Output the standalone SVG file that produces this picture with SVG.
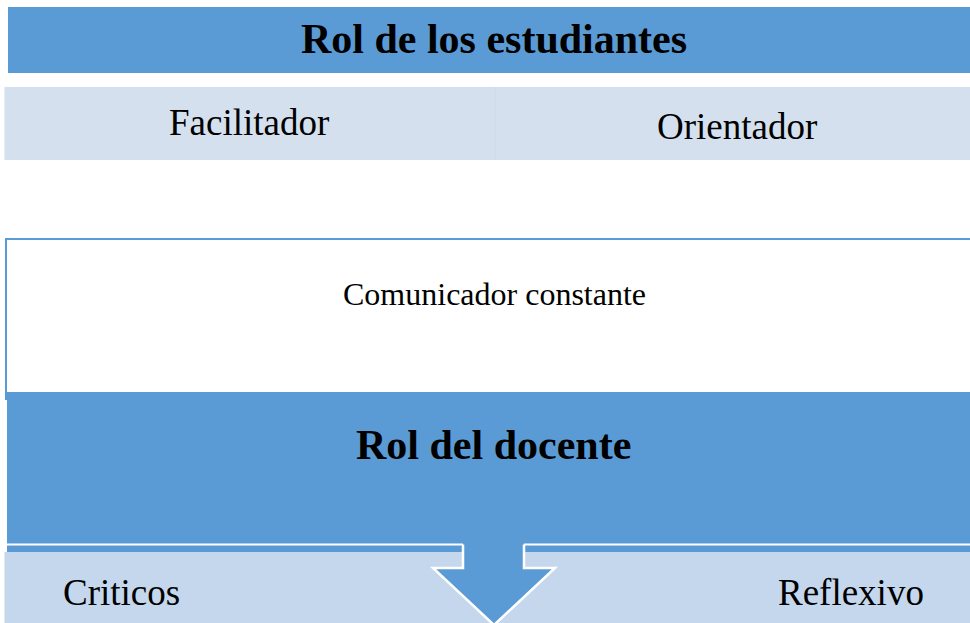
<svg xmlns="http://www.w3.org/2000/svg" width="970" height="623" viewBox="0 0 970 623">
  <style>
    .t { font-family: 'Liberation Serif', 'Times New Roman', serif; fill: #000000; }
    .title { font-size: 42px; font-weight: bold; }
    .item { font-size: 37px; }
    .mid { font-size: 32px; }
    .dark { fill: #5B9BD5; }
    .light1 { fill: #D5E0EF; }
    .light2 { fill: #C4D7EC; }
  </style>
  <rect width="970" height="623" fill="#FFFFFF"/>

  <g id="rol-estudiantes">
    <rect class="dark" x="8" y="7" width="962" height="66"/>
    <text class="t title" x="494" y="53" text-anchor="middle">Rol de los estudiantes</text>
  </g>

  <g id="estudiantes-items">
    <rect class="light1" x="4" y="87" width="966" height="73"/>
    <line x1="4.5" y1="87" x2="4.5" y2="160" stroke="#E6EDF6" stroke-width="1"/>
    <line x1="495" y1="87" x2="495" y2="160" stroke="#CFDAE9" stroke-width="1"/>
    <text class="t item" x="169" y="135">Facilitador</text>
    <text class="t item" x="657" y="139">Orientador</text>
  </g>

  <g id="comunicador">
    <rect x="6" y="239" width="970" height="160" fill="#FFFFFF" stroke="#5B9BD5" stroke-width="2"/>
    <text class="t mid" x="343" y="305">Comunicador constante</text>
  </g>

  <g id="rol-docente">
    <rect class="dark" x="7" y="392" width="963" height="160"/>
    <text class="t title" x="356" y="459">Rol del docente</text>
  </g>

  <g id="docente-items">
    <rect class="light2" x="4" y="552" width="966" height="71"/>
    <line x1="4.5" y1="552" x2="4.5" y2="623" stroke="#E0E9F4" stroke-width="1"/>
    <text class="t item" x="63" y="605">Criticos</text>
    <text class="t item" x="778" y="605">Reflexivo</text>
  </g>

  <g id="connectors">
    <line x1="7" y1="544.5" x2="970" y2="544.5" stroke="#FFFFFF" stroke-width="2"/>
    <polygon class="dark" points="463,540 524,540 524,568 555,568 494,625 433,568 463,568" stroke="none"/>
    <path d="M 463 544.5 V 568 H 433 L 494 625 L 555 568 H 524 V 544.5" fill="none" stroke="#FFFFFF" stroke-width="2.5"/>
  </g>
</svg>
